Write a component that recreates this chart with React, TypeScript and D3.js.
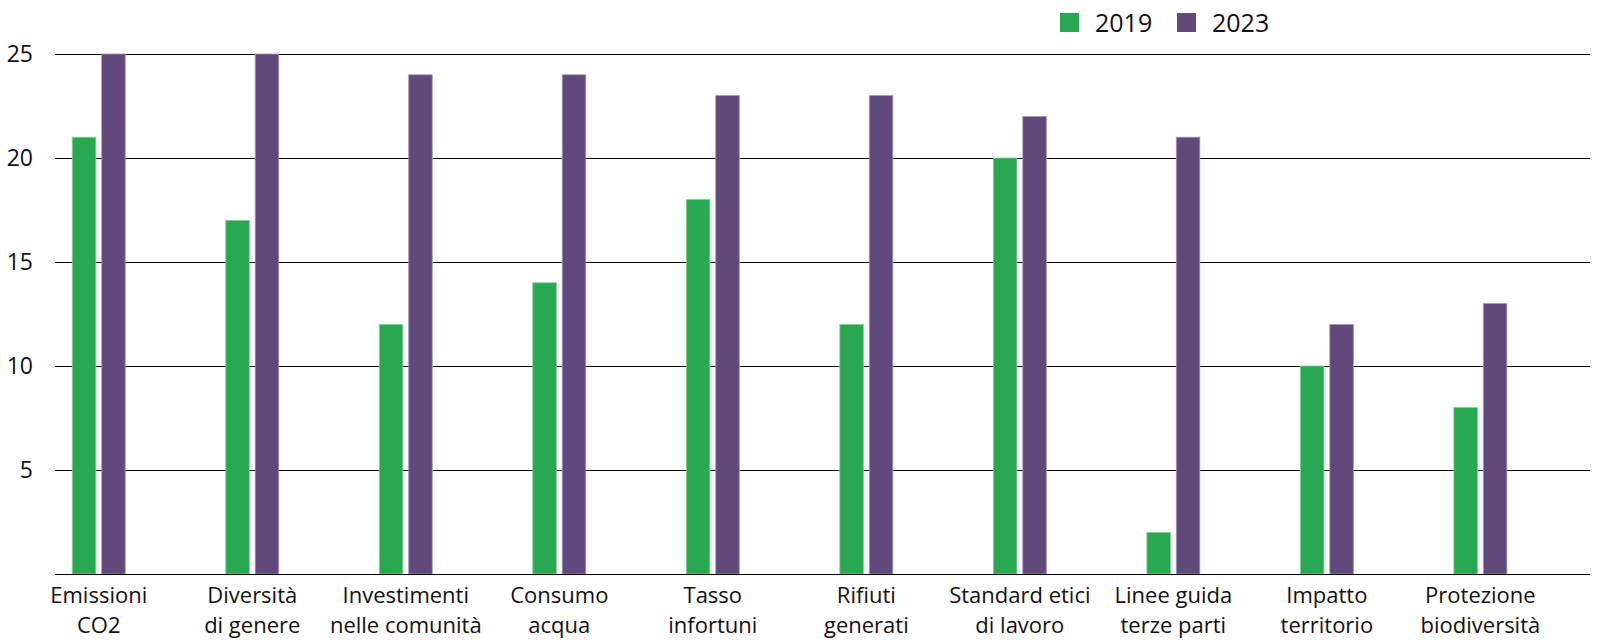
import * as d3 from 'd3';

const categories = [
  'Emissioni CO2',
  'Diversità di genere',
  'Investimenti nelle comunità',
  'Consumo acqua',
  'Tasso infortuni',
  'Rifiuti generati',
  'Standard etici di lavoro',
  'Linee guida terze parti',
  'Impatto territorio',
  'Protezione biodiversità',
];
const labelLines = [
  ['Emissioni', 'CO2'],
  ['Diversità', 'di genere'],
  ['Investimenti', 'nelle comunità'],
  ['Consumo', 'acqua'],
  ['Tasso', 'infortuni'],
  ['Rifiuti', 'generati'],
  ['Standard etici', 'di lavoro'],
  ['Linee guida', 'terze parti'],
  ['Impatto', 'territorio'],
  ['Protezione', 'biodiversità'],
];
const series = ['2019', '2023'];
const values2019 = [21, 17, 12, 14, 18, 12, 20, 2, 10, 8];
const values2023 = [25, 25, 24, 24, 23, 23, 22, 21, 12, 13];
const yTicks = [5, 10, 15, 20, 25];

const colors: Record<string, string> = { '2019': '#29a852', '2023': '#614a7b' };
const strokes: Record<string, string> = { '2019': '#7fcf97', '2023': '#a595b8' };

const W = 1600;
const H = 640;
const FONT = '"Open Sans", "Noto Sans", sans-serif';

export default function App() {
  const plotLeft = 55;
  const plotRight = 1590;
  const baseY = 574;

  const x0 = d3.scaleBand<string>()
    .domain(categories)
    .range([plotLeft, plotRight])
    .paddingInner(0.655)
    .paddingOuter(0.327)
    .align(0.172);

  const x1 = d3.scaleBand<string>()
    .domain(series)
    .range([0, x0.bandwidth()])
    .paddingInner(0.2);

  const y = d3.scaleLinear().domain([0, 25]).range([baseY, 54]);

  const data = categories.map((c, i) => ({
    category: c,
    lines: labelLines[i],
    vals: [
      { key: '2019', v: values2019[i] },
      { key: '2023', v: values2023[i] },
    ],
  }));

  return (
    <svg
      width={W}
      height={H}
      style={{ position: 'absolute', left: 0, top: 0, background: '#fff' }}
      fontFamily={FONT}
    >
      {/* gridlines + tick labels */}
      {yTicks.map(t => (
        <g key={t}>
          <line
            x1={plotLeft}
            x2={plotRight}
            y1={y(t) + 0.5}
            y2={y(t) + 0.5}
            stroke="#000"
            strokeWidth={1}
            shapeRendering="crispEdges"
          />
          <text x={33} y={y(t)} dy="0.36em" textAnchor="end" fontSize={23} fill="#111">
            {t}
          </text>
        </g>
      ))}

      {/* bars */}
      {data.map(d => (
        <g key={d.category} transform={`translate(${x0(d.category)},0)`}>
          {d.vals.map(s => (
            <rect
              key={s.key}
              x={x1(s.key)}
              y={y(s.v)}
              width={x1.bandwidth()}
              height={baseY - y(s.v)}
              fill={colors[s.key]}
              stroke={strokes[s.key]}
              strokeWidth={0.8}
            />
          ))}
        </g>
      ))}

      {/* baseline */}
      <line
        x1={plotLeft}
        x2={plotRight}
        y1={baseY + 0.5}
        y2={baseY + 0.5}
        stroke="#000"
        strokeWidth={1.2}
        shapeRendering="crispEdges"
      />

      {/* category labels, two lines each */}
      {data.map(d => {
        const cx = (x0(d.category) ?? 0) + x0.bandwidth() / 2;
        return d.lines.map((ln, j) => (
          <text
            key={d.category + j}
            x={cx}
            y={603 + j * 30}
            textAnchor="middle"
            fontSize={22}
            fill="#111"
          >
            {ln}
          </text>
        ));
      })}

      {/* legend */}
      {series.map((s, i) => {
        const lx = 1060 + i * 117;
        return (
          <g key={s}>
            <rect x={lx} y={13} width={19} height={19} fill={colors[s]} />
            <text x={lx + 35} y={32} fontSize={25} fill="#111">
              {s}
            </text>
          </g>
        );
      })}
    </svg>
  );
}
